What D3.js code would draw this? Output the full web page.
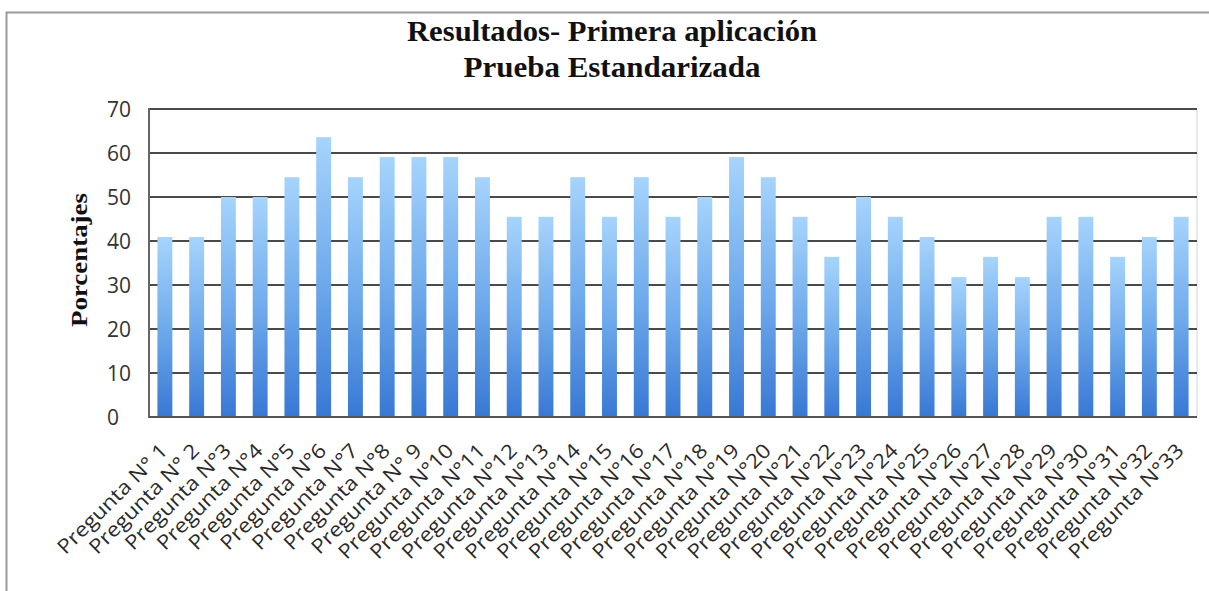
<!DOCTYPE html>
<html>
<head>
    <meta charset="utf-8">
    <title>Resultados- Primera aplicación</title>
    <script src="https://d3js.org/d3.v7.min.js"></script>
    <style>
        html, body { margin: 0; background: #fff; overflow: hidden; }
        svg { display: block; }
    </style>
</head>
<body>
    <div id="chart"></div>
<script>
    // question labels as printed on the x axis
    var preguntas = ["Pregunta N° 1", "Pregunta N° 2", "Pregunta N°3", "Pregunta N°4", "Pregunta N°5",
        "Pregunta N°6", "Pregunta N°7", "Pregunta N°8", "Pregunta N° 9", "Pregunta N°10",
        "Pregunta N°11", "Pregunta N°12", "Pregunta N°13", "Pregunta N°14", "Pregunta N°15",
        "Pregunta N°16", "Pregunta N°17", "Pregunta N°18", "Pregunta N°19", "Pregunta N°20",
        "Pregunta N°21", "Pregunta N°22", "Pregunta N°23", "Pregunta N°24", "Pregunta N°25",
        "Pregunta N°26", "Pregunta N°27", "Pregunta N°28", "Pregunta N°29", "Pregunta N°30",
        "Pregunta N°31", "Pregunta N°32", "Pregunta N°33"];

    // percentage of correct answers per question
    var porcentajes = [40.9, 40.9, 50, 50, 54.5, 63.6, 54.5, 59.1, 59.1, 59.1,
        54.5, 45.5, 45.5, 54.5, 45.5, 54.5, 45.5, 50, 59.1, 54.5,
        45.5, 36.4, 50, 45.5, 40.9, 31.8, 36.4, 31.8, 45.5, 45.5,
        36.4, 40.9, 45.5];

    var yTicks = [0, 10, 20, 30, 40, 50, 60, 70];
    var titulo = ["Resultados- Primera aplicación", "Prueba Estandarizada"];

    var width = 1209;
    var height = 591;
    var plot = { left: 149, right: 1197, top: 109, bottom: 417 };

    var svg = d3.select("#chart")
        .append("svg")
        .attr("width", width)
        .attr("height", height);

    // outer chart frame: only the top and left edges show
    svg.append("path")
        .attr("d", "M6.5," + height + "V12.5H" + width)
        .attr("fill", "none")
        .attr("stroke", "#9a9a9a")
        .attr("stroke-width", 2);

    var x = d3.scaleBand()
        .domain(preguntas)
        .range([plot.left, plot.right])
        .paddingInner(0.53)
        .paddingOuter(0.265);

    var y = d3.scaleLinear()
        .domain([0, 70])
        .range([plot.bottom, plot.top]);

    // bar gradient, light on top, darker blue at the bottom
    var grad = svg.append("defs").append("linearGradient")
        .attr("id", "barGrad")
        .attr("x1", 0).attr("y1", 0).attr("x2", 0).attr("y2", 1);
    grad.append("stop").attr("offset", "0%").attr("stop-color", "#a6d4fc");
    grad.append("stop").attr("offset", "50%").attr("stop-color", "#70abec");
    grad.append("stop").attr("offset", "100%").attr("stop-color", "#3878d4");

    // faint right edge of plot area
    svg.append("line")
        .attr("x1", plot.right).attr("x2", plot.right)
        .attr("y1", plot.top).attr("y2", plot.bottom)
        .attr("stroke", "#d4d4d4");

    // gridlines
    svg.append("g")
        .selectAll("line")
        .data(yTicks)
        .enter()
        .append("line")
        .attr("x1", plot.left).attr("x2", plot.right)
        .attr("y1", function (d) { return y(d); })
        .attr("y2", function (d) { return y(d); })
        .attr("stroke", "#4a4a4a")
        .attr("stroke-width", 2);

    // bars
    svg.append("g")
        .selectAll("rect")
        .data(porcentajes)
        .enter()
        .append("rect")
        .attr("x", function (d, i) { return x(preguntas[i]); })
        .attr("y", function (d) { return y(d); })
        .attr("width", x.bandwidth())
        .attr("height", function (d) { return y(0) - y(d); })
        .attr("fill", "url(#barGrad)");

    // axis lines
    svg.append("line")
        .attr("x1", plot.left).attr("x2", plot.left)
        .attr("y1", plot.top - 1).attr("y2", plot.bottom + 1)
        .attr("stroke", "#666").attr("stroke-width", 2);
    svg.append("line")
        .attr("x1", plot.left).attr("x2", plot.right)
        .attr("y1", plot.bottom).attr("y2", plot.bottom)
        .attr("stroke", "#555").attr("stroke-width", 2);

    // y tick labels
    var yAxis = d3.axisLeft(y).tickValues(yTicks).tickSize(0).tickPadding(0);
    var gy = svg.append("g")
        .attr("transform", "translate(107,0)")
        .call(yAxis);
    gy.select(".domain").remove();
    gy.selectAll("text")
        .attr("text-anchor", "start")
        .attr("x", 0)
        .attr("dy", "0.36em")
        .style("font-family", "'Open Sans', 'Liberation Sans', sans-serif")
        .style("font-size", "21px")
        .style("fill", "#333");

    // x labels, rotated
    var xAxis = d3.axisBottom(x).tickSize(0).tickPadding(0);
    var gx = svg.append("g")
        .call(xAxis);
    gx.select(".domain").remove();
    gx.selectAll(".tick").attr("transform", null);
    gx.selectAll("text")
        .attr("y", null).attr("dy", null)
        .attr("text-anchor", "end")
        .attr("transform", function (d) {
            return "translate(" + (x(d) + x.bandwidth() / 2 + 4) + ",452) rotate(-45)";
        })
        .style("font-family", "'Open Sans', 'Liberation Sans', sans-serif")
        .style("font-size", "20px")
        .style("fill", "#2a2a2a")
        .each(function () {
            var len = this.getComputedTextLength();
            d3.select(this).attr("textLength", len * 1.12).attr("lengthAdjust", "spacingAndGlyphs");
        });

    // title
    var titleWidths = [410, 297];
    svg.append("g")
        .selectAll("text")
        .data(titulo)
        .enter()
        .append("text")
        .attr("x", 612)
        .attr("y", function (d, i) { return 41 + i * 36; })
        .attr("text-anchor", "middle")
        .attr("textLength", function (d, i) { return titleWidths[i]; })
        .attr("lengthAdjust", "spacingAndGlyphs")
        .style("font-family", "'Liberation Serif', 'Times New Roman', serif")
        .style("font-weight", "bold")
        .style("font-size", "30px")
        .style("fill", "#111")
        .text(function (d) { return d; });

    // y axis title
    svg.append("text")
        .attr("transform", "translate(87,260) rotate(-90)")
        .attr("text-anchor", "middle")
        .attr("textLength", 134)
        .attr("lengthAdjust", "spacingAndGlyphs")
        .style("font-family", "'Liberation Serif', 'Times New Roman', serif")
        .style("font-weight", "bold")
        .style("font-size", "23px")
        .style("fill", "#111")
        .text("Porcentajes");
</script>
</body>
</html>
